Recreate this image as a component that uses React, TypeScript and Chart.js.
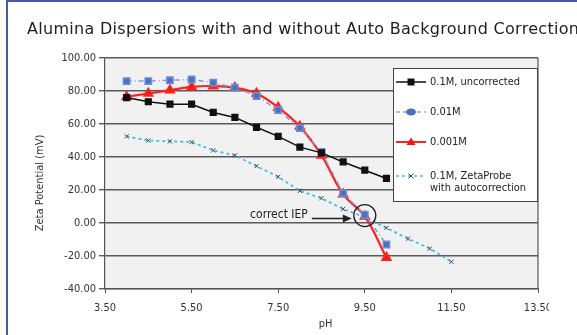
import React, { useEffect, useRef } from "react";
import { Chart, registerables } from "chart.js";
Chart.register(...registerables);

const TITLE = "Alumina Dispersions with and without Auto Background Correction";
const X_TITLE = "pH";
const Y_TITLE = "Zeta Potential (mV)";
const phValues = [4.0, 4.5, 5.0, 5.5, 6.0, 6.5, 7.0, 7.5, 8.0, 8.5, 9.0, 9.5, 10.0];
const uncorrected01M = [76, 73.5, 72, 72, 67, 64, 58, 52.5, 46, 42.5, 37, 32, 27];
const conc001M = [86, 86, 86.5, 87, 85, 82, 77, 68.5, 57.5, 43, 18, 5, -13];
const conc0001M = [76.5, 78.5, 80.5, 82.5, 83, 82, 78.5, 70, 58.5, 41, 17.5, 4, -21];
const zetaPh = [4.0, 4.5, 5.0, 5.5, 6.0, 6.5, 7.0, 7.5, 8.0, 8.5, 9.0, 9.5, 10.0, 10.5, 11.0, 11.5];
const zetaProbe = [52.5, 50, 49.5, 49, 44, 41, 34.5, 28, 19.5, 15, 8.5, 3.5, -3, -9.5, -15.5, -23.5];
const seriesNames = ["0.1M, uncorrected", "0.01M", "0.001M", "0.1M, ZetaProbe", "with autocorrection"];
const IEP = { x: 9.5, y: 4.5, label: "correct IEP" };
const X_MIN = 3.5, X_MAX = 13.5, X_STEP = 2;
const Y_MIN = -40, Y_MAX = 100, Y_STEP = 20;

const NARROW = '"Liberation Sans Narrow", "DejaVu Sans Condensed", "Liberation Sans", sans-serif';

const pts = (xs: number[], ys: number[]) => xs.map((x, i) => ({ x, y: ys[i] }));

function drawMarker(ctx: CanvasRenderingContext2D, kind: string, x: number, y: number, fill: string, stroke: string) {
  ctx.save();
  ctx.fillStyle = fill;
  ctx.strokeStyle = stroke;
  if (kind === "rect") {
    ctx.fillRect(x - 3.5, y - 3.5, 7, 7);
  } else if (kind === "circ") {
    ctx.beginPath();
    ctx.ellipse(x, y, 5, 3.5, 0, 0, Math.PI * 2);
    ctx.fill();
  } else if (kind === "tri") {
    ctx.beginPath();
    ctx.moveTo(x, y - 4.5);
    ctx.lineTo(x + 4.5, y + 3);
    ctx.lineTo(x - 4.5, y + 3);
    ctx.closePath();
    ctx.fill();
  } else if (kind === "x") {
    ctx.lineWidth = 1;
    ctx.beginPath();
    ctx.moveTo(x - 2.5, y - 2.5);
    ctx.lineTo(x + 2.5, y + 2.5);
    ctx.moveTo(x + 2.5, y - 2.5);
    ctx.lineTo(x - 2.5, y + 2.5);
    ctx.stroke();
  }
  ctx.restore();
}

const decorPlugin = {
  id: "decor",
  beforeDraw(chart: any) {
    const { ctx, chartArea: a, width, height } = chart;
    ctx.save();
    ctx.fillStyle = "#ffffff";
    ctx.fillRect(0, 0, width, height);
    ctx.fillStyle = "#f1f1f1";
    ctx.fillRect(a.left, a.top, a.right - a.left, a.bottom - a.top);
    ctx.restore();
  },
  afterDraw(chart: any) {
    const { ctx, chartArea: a, scales } = chart;
    ctx.save();
    // right border
    ctx.strokeStyle = "#555";
    ctx.lineWidth = 1.2;
    ctx.beginPath();
    ctx.moveTo(a.right, a.top);
    ctx.lineTo(a.right, a.bottom);
    ctx.stroke();

    // annotation
    const cx = scales.x.getPixelForValue(IEP.x);
    const cy = scales.y.getPixelForValue(IEP.y);
    ctx.strokeStyle = "#222";
    ctx.lineWidth = 1.3;
    ctx.beginPath();
    ctx.arc(cx, cy, 11, 0, Math.PI * 2);
    ctx.stroke();
    ctx.fillStyle = "#222";
    ctx.font = `12px ${NARROW}`;
    ctx.textAlign = "right";
    ctx.textBaseline = "middle";
    ctx.fillText(IEP.label, cx - 57, cy - 1);
    ctx.lineWidth = 1.5;
    ctx.beginPath();
    ctx.moveTo(cx - 53, cy + 3);
    ctx.lineTo(cx - 20, cy + 3);
    ctx.stroke();
    ctx.beginPath();
    ctx.moveTo(cx - 13, cy + 3);
    ctx.lineTo(cx - 22, cy - 1);
    ctx.lineTo(cx - 22, cy + 7);
    ctx.closePath();
    ctx.fill();

    // legend
    const lx = 393, ly = 68, lw = 144, lh = 133;
    ctx.fillStyle = "#ffffff";
    ctx.fillRect(lx, ly, lw, lh);
    ctx.strokeStyle = "#444";
    ctx.lineWidth = 1;
    ctx.strokeRect(lx + 0.5, ly + 0.5, lw, lh);
    const rows = [
      { y: 82, color: "#111", dash: [] as number[], w: 1.5, m: "rect", mf: "#111", ms: "#111" },
      { y: 112, color: "#8fa8dc", dash: [4, 3], w: 1.5, m: "circ", mf: "#4a6fc2", ms: "#4a6fc2" },
      { y: 142, color: "#ff2020", dash: [] as number[], w: 2, m: "tri", mf: "#ff1010", ms: "#ff1010" },
      { y: 176, color: "#3fbfe6", dash: [3, 3], w: 1.5, m: "x", mf: "#444", ms: "#444" },
    ];
    rows.forEach((r, i) => {
      ctx.save();
      ctx.strokeStyle = r.color;
      ctx.lineWidth = r.w;
      ctx.setLineDash(r.dash);
      ctx.beginPath();
      ctx.moveTo(lx + 3, r.y);
      ctx.lineTo(lx + 33, r.y);
      ctx.stroke();
      ctx.restore();
      drawMarker(ctx, r.m, lx + 18, r.y, r.mf, r.ms);
      ctx.fillStyle = "#222";
      ctx.font = `11px ${NARROW}`;
      ctx.textAlign = "left";
      ctx.textBaseline = "middle";
      ctx.fillText(seriesNames[i], lx + 37, r.y);
    });
    ctx.fillText(seriesNames[4], lx + 37, 188);

    // axis titles
    ctx.fillStyle = "#333";
    ctx.font = `11px ${NARROW}`;
    ctx.textAlign = "center";
    ctx.textBaseline = "middle";
    ctx.fillText(X_TITLE, (a.left + a.right) / 2 + 4, 324);
    ctx.save();
    ctx.translate(40, 183);
    ctx.rotate(-Math.PI / 2);
    ctx.fillText(Y_TITLE, 0, 0);
    ctx.restore();

    // chart title
    ctx.save();
    ctx.fillStyle = "#1e1e1e";
    ctx.font = `16px "DejaVu Sans", "Liberation Sans", sans-serif`;
    ctx.textAlign = "left";
    ctx.textBaseline = "alphabetic";
    const w = ctx.measureText(TITLE).width;
    const spacing = (552 - w) / TITLE.length;
    (ctx as any).letterSpacing = `${spacing.toFixed(2)}px`;
    ctx.fillText(TITLE, 27, 34);
    ctx.restore();

    // right crop
    ctx.fillStyle = "#ffffff";
    ctx.fillRect(549, 44, 40, 300);

    // frame
    ctx.strokeStyle = "#4a5aa8";
    ctx.lineWidth = 2;
    ctx.beginPath();
    ctx.moveTo(7, 340);
    ctx.lineTo(7, 1);
    ctx.lineTo(580, 1);
    ctx.stroke();
    ctx.restore();
  },
};

export default function App() {
  const ref = useRef<HTMLCanvasElement | null>(null);
  useEffect(() => {
    if (!ref.current) return;
    const chart = new Chart(ref.current, {
      type: "scatter",
      data: {
        datasets: [
          {
            label: seriesNames[0],
            data: pts(phValues, uncorrected01M),
            showLine: true,
            borderColor: "#111",
            backgroundColor: "#111",
            borderWidth: 1.5,
            pointStyle: "rect",
            pointRadius: 4,
          },
          {
            label: seriesNames[1],
            data: pts(phValues, conc001M),
            showLine: true,
            borderColor: "#7f9bd6",
            borderDash: [5, 3, 1, 3],
            backgroundColor: "#4a6fc2",
            pointBorderColor: "#6f8fd2",
            borderWidth: 1.5,
            pointStyle: "rect",
            pointRadius: 4.5,
          },
          {
            label: seriesNames[2],
            data: pts(phValues, conc0001M),
            showLine: true,
            borderColor: "#ff2020",
            backgroundColor: "#ff1010",
            borderWidth: 2.2,
            tension: 0.4,
            pointStyle: "triangle",
            pointRadius: 4.5,
          },
          {
            label: seriesNames[3],
            data: pts(zetaPh, zetaProbe),
            showLine: true,
            borderColor: "#3fbfe6",
            borderDash: [3, 3],
            backgroundColor: "#444",
            pointBorderColor: "#444",
            pointBorderWidth: 1,
            borderWidth: 1.8,
            pointStyle: "crossRot",
            pointRadius: 3,
          },
        ],
      },
      options: {
        animation: false,
        responsive: false,
        maintainAspectRatio: false,
        layout: { padding: { left: 0, right: 39, top: 58, bottom: 0 } },
        plugins: { legend: { display: false }, tooltip: { enabled: false }, title: { display: false } },
        scales: {
          x: {
            type: "linear",
            min: X_MIN,
            max: X_MAX,
            afterFit: (s: any) => { s.height = 46; },
            ticks: {
              stepSize: X_STEP,
              padding: 9,
              color: "#333",
              font: { family: NARROW, size: 11 },
              callback: (v: any) => Number(v).toFixed(2),
            },
            grid: { drawOnChartArea: false, drawTicks: true, tickLength: 4, color: "#555" },
            border: { display: true, color: "#555", width: 1.2 },
          },
          y: {
            type: "linear",
            min: Y_MIN,
            max: Y_MAX,
            afterFit: (s: any) => { s.width = 105; },
            ticks: {
              stepSize: Y_STEP,
              padding: 3,
              color: "#333",
              font: { family: NARROW, size: 11 },
              callback: (v: any) => Number(v).toFixed(2),
            },
            grid: { color: "#5a5a5a", lineWidth: 1.4, drawTicks: true, tickLength: 6 },
            border: { display: true, color: "#555", width: 1.2 },
          },
        },
      },
      plugins: [decorPlugin],
    } as any);
    return () => chart.destroy();
  }, []);
  return (
    <div style={{ position: "fixed", left: 0, top: 0, width: 577, height: 335, background: "#fff" }}>
      <canvas ref={ref} width={577} height={335} style={{ width: 577, height: 335, display: "block" }} />
    </div>
  );
}
